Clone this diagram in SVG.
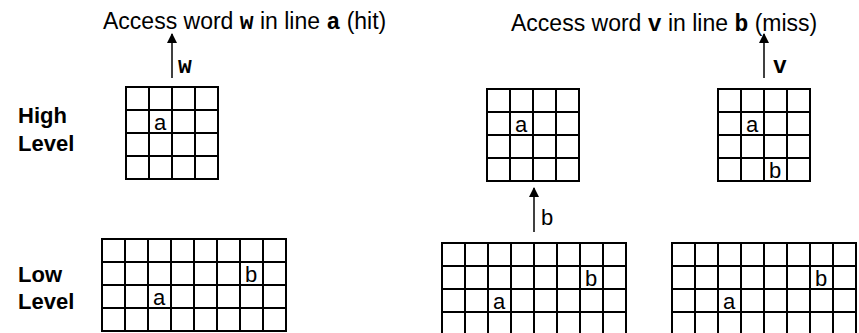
<svg xmlns="http://www.w3.org/2000/svg" xmlns:xlink="http://www.w3.org/1999/xlink" width="859" height="333" viewBox="0 0 859 333">
<style>
.t{font-family:"Liberation Sans",Arial,sans-serif;font-size:23px;fill:#000}
.m{font-family:"Liberation Mono","Courier New",monospace;font-weight:bold}
.lvl{font-family:"Liberation Sans",Arial,sans-serif;font-size:22px;font-weight:bold;fill:#000}
.c{font-family:"Liberation Sans",Arial,sans-serif;font-size:22px;fill:#000}
.g{fill:#fff;stroke:#000;stroke-width:2}
.a{stroke:#000;stroke-width:1.5;fill:none}
</style>
<defs>
<marker id="ah" viewBox="0 0 10 10" refX="9" refY="5" markerWidth="7" markerHeight="7" markerUnits="strokeWidth" orient="auto">
<path d="M0,0L10,5L0,10z" fill="#000"/>
</marker>
<path id="g4" class="g" d="M0,0h92v92h-92z M23,0v92 M46,0v92 M69,0v92 M0,23h92 M0,46h92 M0,69h92"/>
<path id="g8" class="g" d="M0,0h184v92h-184z M23,0v92 M46,0v92 M69,0v92 M92,0v92 M115,0v92 M138,0v92 M161,0v92 M0,23h184 M0,46h184 M0,69h184"/>
</defs>
<g id="titles">
<text class="t" x="103" y="29">Access word <tspan class="m">w</tspan> in line <tspan class="m">a</tspan> (hit)</text>
<text class="t" x="511" y="31">Access word <tspan class="m">v</tspan> in line <tspan class="m">b</tspan> (miss)</text>
</g>
<g id="labels">
<text class="lvl" x="18" y="123">High</text>
<text class="lvl" x="18" y="151">Level</text>
<text class="lvl" x="18" y="282">Low</text>
<text class="lvl" x="18" y="309">Level</text>
</g>
<g id="high-left">
<use xlink:href="#g4" x="126" y="87"/>
<text class="c" x="154" y="130">a</text>
</g>
<g id="high-mid">
<use xlink:href="#g4" x="487" y="89"/>
<text class="c" x="515" y="132">a</text>
</g>
<g id="high-right">
<use xlink:href="#g4" x="718" y="89"/>
<text class="c" x="746" y="132">a</text>
<text class="c" x="769" y="178">b</text>
</g>
<g id="low-left">
<use xlink:href="#g8" x="102" y="239"/>
<text class="c" x="245" y="282">b</text>
<text class="c" x="153" y="305">a</text>
</g>
<g id="low-mid">
<use xlink:href="#g8" x="442" y="243"/>
<text class="c" x="585" y="286">b</text>
<text class="c" x="493" y="309">a</text>
</g>
<g id="low-right">
<use xlink:href="#g8" x="672" y="243"/>
<text class="c" x="815" y="286">b</text>
<text class="c" x="723" y="309">a</text>
</g>
<g id="connectors">
<line class="a" x1="172" y1="78" x2="172" y2="34" marker-end="url(#ah)"/>
<text class="t m" x="178" y="73">w</text>
<line class="a" x1="764" y1="78" x2="764" y2="34" marker-end="url(#ah)"/>
<text class="t m" x="773" y="73">v</text>
<line class="a" x1="534" y1="232" x2="534" y2="188" marker-end="url(#ah)"/>
<text class="c" x="541" y="225">b</text>
</g>
</svg>
